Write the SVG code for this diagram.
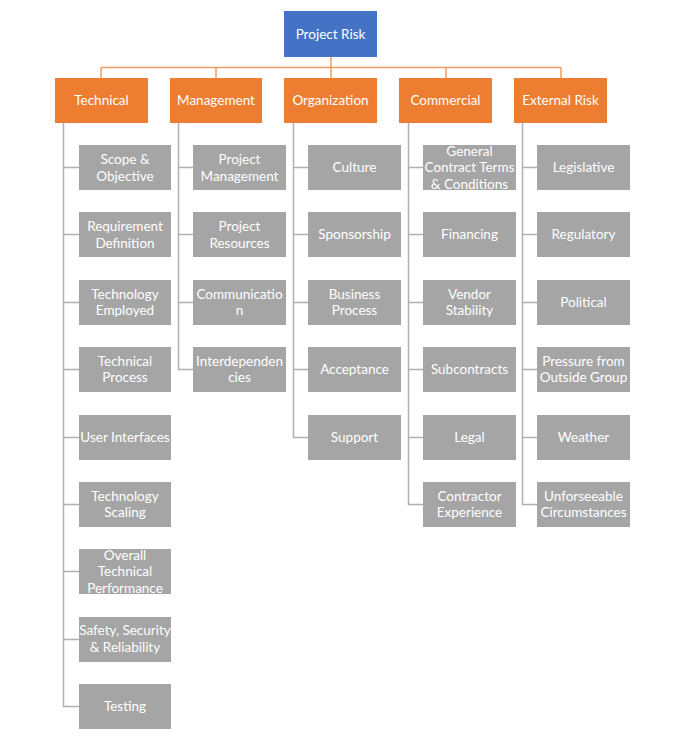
<svg xmlns="http://www.w3.org/2000/svg" width="686" height="745" viewBox="0 0 686 745">
<style>
.root{fill:#4472C4}
.cat{fill:#ED7D31}
.leaf{fill:#A5A5A5}
text{font-family:Lato,"Open Sans","Noto Sans",sans-serif;font-size:13.5px;fill:#FFFFFF;text-anchor:middle}
.oc{stroke:#F19C5F;stroke-width:1.5;fill:none}
.gc{stroke:#B0B0B0;stroke-width:1.5;fill:none}
</style>
<rect width="686" height="745" fill="#FFFFFF"/>
<g id="connectors">
<path class="oc" d="M331,57V67.5M101,67.5H561M101,67.5V78M216,67.5V78M331,67.5V78M446,67.5V78M561,67.5V78"/>
<path class="gc" d="M63.5,123V706.5H79M63.5,167.5H79M63.5,234.5H79M63.5,302.5H79M63.5,369.5H79M63.5,437.5H79M63.5,504.5H79M63.5,571.5H79M63.5,639.5H79"/>
<path class="gc" d="M178.5,123V369.5H193M178.5,167.5H193M178.5,234.5H193M178.5,302.5H193"/>
<path class="gc" d="M293.5,123V437.5H308M293.5,167.5H308M293.5,234.5H308M293.5,302.5H308M293.5,369.5H308"/>
<path class="gc" d="M408.5,123V504.5H423M408.5,167.5H423M408.5,234.5H423M408.5,302.5H423M408.5,369.5H423M408.5,437.5H423"/>
<path class="gc" d="M522.5,123V504.5H537M522.5,167.5H537M522.5,234.5H537M522.5,302.5H537M522.5,369.5H537M522.5,437.5H537"/>
</g>
<g id="project-risk"><rect class="root" x="284" y="11" width="93" height="46"/><text x="330.5" y="38.5">Project Risk</text></g>
<g id="technical"><rect class="cat" x="55" y="78" width="93" height="45"/><text x="101.5" y="105">Technical</text></g>
<g id="management"><rect class="cat" x="170" y="78" width="92" height="45"/><text x="216" y="105">Management</text></g>
<g id="organization"><rect class="cat" x="284" y="78" width="93" height="45"/><text x="330.5" y="105">Organization</text></g>
<g id="commercial"><rect class="cat" x="399" y="78" width="93" height="45"/><text x="445.5" y="105">Commercial</text></g>
<g id="external-risk"><rect class="cat" x="514" y="78" width="93" height="45"/><text x="560.5" y="105">External Risk</text></g>

<g id="scope"><rect class="leaf" x="79" y="145" width="92" height="45"/><text x="125" y="164">Scope &amp;</text><text x="125" y="180.5">Objective</text></g>
<g id="requirement"><rect class="leaf" x="79" y="212" width="92" height="45"/><text x="125" y="231">Requirement</text><text x="125" y="247.5">Definition</text></g>
<g id="technology-employed"><rect class="leaf" x="79" y="280" width="92" height="45"/><text x="125" y="298.5">Technology</text><text x="125" y="315">Employed</text></g>
<g id="technical-process"><rect class="leaf" x="79" y="347" width="92" height="45"/><text x="125" y="365.5">Technical</text><text x="125" y="382">Process</text></g>
<g id="user-interfaces"><rect class="leaf" x="79" y="415" width="92" height="45"/><text x="125" y="442">User Interfaces</text></g>
<g id="technology-scaling"><rect class="leaf" x="79" y="482" width="92" height="45"/><text x="125" y="500.5">Technology</text><text x="125" y="517">Scaling</text></g>
<g id="overall"><rect class="leaf" x="79" y="549" width="92" height="45"/><text x="125" y="559.5">Overall</text><text x="125" y="576">Technical</text><text x="125" y="592.5">Performance</text></g>
<g id="safety"><rect class="leaf" x="79" y="617" width="92" height="45"/><text x="125" y="635">Safety, Security</text><text x="125" y="651.5">&amp; Reliability</text></g>
<g id="testing"><rect class="leaf" x="79" y="684" width="92" height="45"/><text x="125" y="711">Testing</text></g>

<g id="project-management"><rect class="leaf" x="193" y="145" width="93" height="45"/><text x="239.5" y="164">Project</text><text x="239.5" y="180.5">Management</text></g>
<g id="project-resources"><rect class="leaf" x="193" y="212" width="93" height="45"/><text x="239.5" y="231">Project</text><text x="239.5" y="247.5">Resources</text></g>
<g id="communication"><rect class="leaf" x="193" y="280" width="93" height="45"/><text x="239.5" y="298.5">Communicatio</text><text x="239.5" y="315">n</text></g>
<g id="interdependencies"><rect class="leaf" x="193" y="347" width="93" height="45"/><text x="239.5" y="365.5">Interdependen</text><text x="239.5" y="382">cies</text></g>

<g id="culture"><rect class="leaf" x="308" y="145" width="93" height="45"/><text x="354.5" y="172">Culture</text></g>
<g id="sponsorship"><rect class="leaf" x="308" y="212" width="93" height="45"/><text x="354.5" y="239">Sponsorship</text></g>
<g id="business-process"><rect class="leaf" x="308" y="280" width="93" height="45"/><text x="354.5" y="298.5">Business</text><text x="354.5" y="315">Process</text></g>
<g id="acceptance"><rect class="leaf" x="308" y="347" width="93" height="45"/><text x="354.5" y="374">Acceptance</text></g>
<g id="support"><rect class="leaf" x="308" y="415" width="93" height="45"/><text x="354.5" y="442">Support</text></g>

<g id="general-contract"><rect class="leaf" x="423" y="145" width="93" height="45"/><text x="469.5" y="155.5">General</text><text x="469.5" y="172">Contract Terms</text><text x="469.5" y="188.5">&amp; Conditions</text></g>
<g id="financing"><rect class="leaf" x="423" y="212" width="93" height="45"/><text x="469.5" y="239">Financing</text></g>
<g id="vendor-stability"><rect class="leaf" x="423" y="280" width="93" height="45"/><text x="469.5" y="298.5">Vendor</text><text x="469.5" y="315">Stability</text></g>
<g id="subcontracts"><rect class="leaf" x="423" y="347" width="93" height="45"/><text x="469.5" y="374">Subcontracts</text></g>
<g id="legal"><rect class="leaf" x="423" y="415" width="93" height="45"/><text x="469.5" y="442">Legal</text></g>
<g id="contractor-experience"><rect class="leaf" x="423" y="482" width="93" height="45"/><text x="469.5" y="500.5">Contractor</text><text x="469.5" y="517">Experience</text></g>

<g id="legislative"><rect class="leaf" x="537" y="145" width="93" height="45"/><text x="583.5" y="172">Legislative</text></g>
<g id="regulatory"><rect class="leaf" x="537" y="212" width="93" height="45"/><text x="583.5" y="239">Regulatory</text></g>
<g id="political"><rect class="leaf" x="537" y="280" width="93" height="45"/><text x="583.5" y="307">Political</text></g>
<g id="pressure"><rect class="leaf" x="537" y="347" width="93" height="45"/><text x="583.5" y="365.5">Pressure from</text><text x="583.5" y="382">Outside Group</text></g>
<g id="weather"><rect class="leaf" x="537" y="415" width="93" height="45"/><text x="583.5" y="442">Weather</text></g>
<g id="unforseeable"><rect class="leaf" x="537" y="482" width="93" height="45"/><text x="583.5" y="500.5">Unforseeable</text><text x="583.5" y="517">Circumstances</text></g>
</svg>
